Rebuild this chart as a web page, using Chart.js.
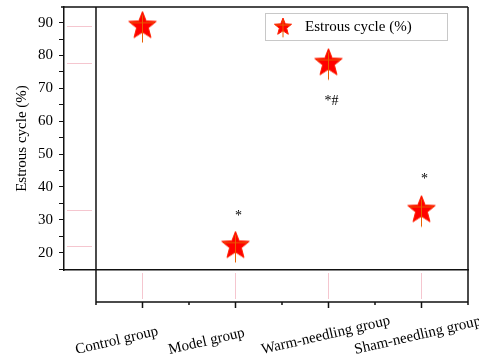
<!DOCTYPE html>
<html>
<head>
<meta charset="utf-8">
<script src="https://cdn.jsdelivr.net/npm/chart.js@4.4.0/dist/chart.umd.min.js"></script>
<style>
  html, body { margin: 0; padding: 0; background: #fff; }
  #wrap { width: 479px; height: 362px; }
</style>
</head>
<body>
<div id="wrap"><canvas id="cycleChart"></canvas></div>
<script>
// Data
const groups = ["Control group", "Model group", "Warm-needling group", "Sham-needling group"];
const cyclePct = [89.0, 22.1, 77.7, 33.0];
const marks = ["", "*", "*#", "*"];
const markLevels = [null, 30, 65, 41.2];
const yTickValues = [15, 20, 25, 30, 35, 40, 45, 50, 55, 60, 65, 70, 75, 80, 85, 90];
const seriesName = "Estrous cycle (%)";

const serif = "'Liberation Serif', 'Times New Roman', serif";
const pink = "#f5c6cf";

// Red five point star used as the marker
function makeStar(r) {
  const s = Math.ceil(r * 2 + 6);
  const c = document.createElement("canvas");
  c.width = s;
  c.height = s;
  const g = c.getContext("2d");
  const cx = s / 2, cy = s / 2;
  g.beginPath();
  for (let k = 0; k < 10; k++) {
    const rr = k % 2 ? r * 0.43 : r;
    const a = -Math.PI / 2 + k * Math.PI / 5;
    g.lineTo(cx + rr * Math.cos(a), cy + rr * Math.sin(a));
  }
  g.closePath();
  g.fillStyle = "#ff0000";
  g.fill();
  g.strokeStyle = "#ff2200";
  g.lineWidth = 1;
  g.stroke();
  // orange cross lines inside the star
  g.strokeStyle = "#e86000";
  g.beginPath();
  g.moveTo(cx, cy - r * 0.75);
  g.lineTo(cx, cy + r * 1.15);
  g.moveTo(cx - r * 0.8, cy - r * 0.22);
  g.lineTo(cx + r * 0.8, cy - r * 0.22);
  g.stroke();
  return c;
}

const starBig = makeStar(14.5);
const starSmall = makeStar(9);

const framePlugin = {
  id: "frame",
  afterDraw(chart) {
    const { ctx, chartArea: a, scales } = chart;
    const xs = scales.x, ys = scales.y;
    const x0 = xs.getPixelForValue(0.5);
    const x1 = xs.getPixelForValue(4.5);
    const stripBottom = a.bottom + 32;

    ctx.save();
    // pink drop lines in the side and bottom strips
    ctx.strokeStyle = pink;
    ctx.lineWidth = 1;
    ctx.beginPath();
    cyclePct.forEach((v, i) => {
      const py = Math.round(ys.getPixelForValue(v)) + 0.5;
      ctx.moveTo(a.left + 3, py);
      ctx.lineTo(x0 - 4, py);
      const px = Math.round(xs.getPixelForValue(i + 1)) + 0.5;
      ctx.moveTo(px, a.bottom + 3);
      ctx.lineTo(px, stripBottom - 3);
    });
    ctx.stroke();

    // frame lines
    ctx.strokeStyle = "#111";
    ctx.lineWidth = 1.5;
    ctx.beginPath();
    ctx.moveTo(a.left - 3, a.top);
    ctx.lineTo(x1, a.top);
    ctx.moveTo(x0, a.top);
    ctx.lineTo(x0, stripBottom);
    ctx.moveTo(x1, a.top);
    ctx.lineTo(x1, stripBottom);
    ctx.moveTo(x0, stripBottom);
    ctx.lineTo(x1, stripBottom);
    // bottom ticks
    for (let v = 0.5; v <= 4.5; v += 0.5) {
      const px = xs.getPixelForValue(v);
      const len = Number.isInteger(v) ? 6 : 3;
      ctx.moveTo(px, stripBottom);
      ctx.lineTo(px, stripBottom + len);
    }
    ctx.stroke();

    // rotated category labels
    ctx.fillStyle = "#000";
    ctx.font = "15px " + serif;
    ctx.textAlign = "left";
    ctx.textBaseline = "alphabetic";
    groups.forEach((g, i) => {
      const px = xs.getPixelForValue(i + 1);
      ctx.save();
      ctx.translate(px - 66, 354);
      ctx.rotate(-13 * Math.PI / 180);
      ctx.fillText(g, 0, 0);
      ctx.restore();
    });

    // significance marks
    ctx.font = "14px " + serif;
    ctx.textAlign = "center";
    marks.forEach((m, i) => {
      if (!m) return;
      ctx.fillText(m, xs.getPixelForValue(i + 1) + 3, ys.getPixelForValue(markLevels[i]));
    });

    // legend box
    ctx.strokeStyle = "#c8c8c8";
    ctx.lineWidth = 1;
    ctx.strokeRect(265.5, 13.5, 182, 27);
    ctx.drawImage(starSmall, 283 - starSmall.width / 2, 27 - starSmall.height / 2);
    ctx.font = "15px " + serif;
    ctx.textAlign = "left";
    ctx.textBaseline = "middle";
    ctx.fillText(seriesName, 305, 27.5);
    ctx.restore();
  }
};

new Chart(document.getElementById("cycleChart"), {
  type: "scatter",
  data: {
    datasets: [
      {
        label: seriesName,
        data: groups.map((g, i) => ({ x: i + 1, y: cyclePct[i] })),
        pointStyle: starBig,
        pointRadius: 14,
        showLine: false,
      },
    ],
  },
  options: {
    responsive: true,
    maintainAspectRatio: false,
    animation: false,
    layout: { autoPadding: false, padding: { top: 7, right: 11, left: 0, bottom: 0 } },
    plugins: {
      legend: { display: false },
      tooltip: { enabled: false },
    },
    scales: {
      x: {
        type: "linear",
        min: 0.156,
        max: 4.5,
        afterFit(scale) {
          scale.height = 92;
          scale.paddingLeft = 0;
          scale.paddingRight = 0;
        },
        ticks: { display: false },
        grid: { drawOnChartArea: false, drawTicks: false },
        border: { color: "#111", width: 1.5 },
      },
      y: {
        min: 14.75,
        max: 94.75,
        afterBuildTicks(scale) {
          scale.ticks = yTickValues.map((v) => ({ value: v }));
        },
        afterFit(scale) {
          scale.width = 64;
          scale.paddingTop = 0;
          scale.paddingBottom = 0;
        },
        ticks: {
          autoSkip: false,
          padding: 6,
          color: "#000",
          font: { family: serif, size: 15 },
          callback: (v) => (v % 10 === 0 && v >= 20 ? v : ""),
        },
        grid: { drawOnChartArea: false, tickLength: 5, color: "#111" },
        border: { color: "#111", width: 1.5 },
        title: {
          display: true,
          text: seriesName,
          color: "#000",
          font: { family: serif, size: 15 },
          padding: { top: 13, bottom: 0 },
        },
      },
    },
  },
  plugins: [framePlugin],
});
</script>
</body>
</html>
